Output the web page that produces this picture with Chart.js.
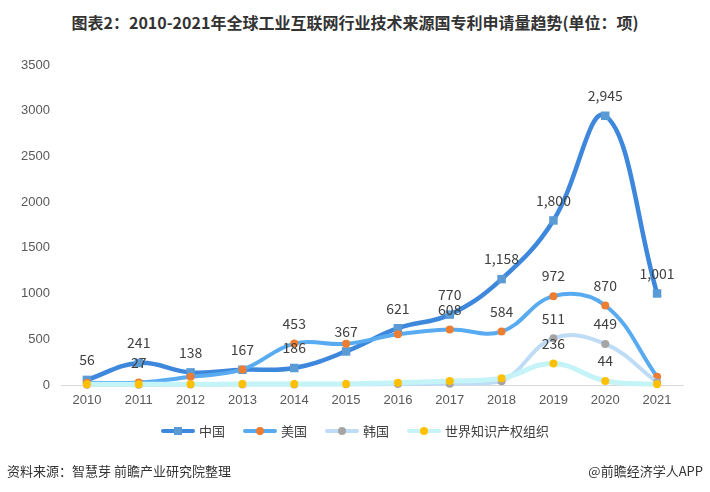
<!DOCTYPE html>
<html>
<head>
<meta charset="utf-8">
<script src="https://cdn.jsdelivr.net/npm/chart.js@4.4.0/dist/chart.umd.min.js"></script>
<style>
    body { margin: 0; width: 710px; height: 492px; background: #fff; position: relative; overflow: hidden;
           font-family: "Noto Sans CJK SC", "Noto Sans", sans-serif; }
    #chart { position: absolute; left: 0; top: 0; }
    #title { position: absolute; top: 10px; left: 0; width: 710px; text-align: center;
             font-size: 16px; font-weight: bold; color: #333; }
    #legend { position: absolute; top: 421px; left: 0; width: 710px; display: flex; justify-content: center;
              font-size: 13px; color: #404040; line-height: 20px; }
    .item { display: flex; align-items: center; margin: 0 9px; }
    .sym { position: relative; width: 34px; height: 4px; margin-right: 4px; border-radius: 2px; }
    .mk { position: absolute; left: 13px; top: -2px; width: 8px; height: 8px; }
    #source { position: absolute; left: 7px; top: 461px; font-size: 13px; color: #333; }
    #brand { position: absolute; right: 7px; top: 461px; font-size: 13px; color: #333; }
</style>
</head>
<body>
<div id="title">图表2：2010-2021年全球工业互联网行业技术来源国专利申请量趋势(单位：项)</div>
<canvas id="chart" width="710" height="492"></canvas>
<div id="legend"></div>
<div id="source">资料来源：智慧芽 前瞻产业研究院整理</div>
<div id="brand">@前瞻经济学人APP</div>
<script>
// data
const years = ['2010', '2011', '2012', '2013', '2014', '2015', '2016', '2017', '2018', '2019', '2020', '2021'];
const seriesNames = ['中国', '美国', '韩国', '世界知识产权组织'];
const chinaValues = [56, 241, 138, 167, 186, 367, 621, 770, 1158, 1800, 2945, 1001];
const usValues = [25, 27, 90, 170, 453, 450, 555, 608, 584, 972, 870, 90];
const koreaValues = [3, 3, 5, 5, 6, 8, 10, 15, 40, 511, 449, 30];
const wipoValues = [8, 8, 8, 10, 12, 12, 25, 44, 73, 236, 44, 8];
// which points carry a value label
const chinaLabeled = [0, 1, 2, 3, 4, 5, 6, 7, 8, 9, 10, 11];
const usLabeled = [1, 4, 7, 8, 9, 10];
const koreaLabeled = [9, 10];
const wipoLabeled = [9, 10];
const yTicks = [0, 500, 1000, 1500, 2000, 2500, 3000, 3500];

const lineColors = ['#3d87dc', '#58abf0', '#bfdcf6', '#c4f3f8'];
const markerColors = ['#5b9bd5', '#ed7d31', '#a5a5a5', '#ffc000'];

function makeDataset(i, values, labeled, pointStyle, radius, width) {
    return {
        label: seriesNames[i],
        data: values,
        labeled: labeled,
        borderColor: lineColors[i],
        borderWidth: width,
        backgroundColor: markerColors[i],
        pointBackgroundColor: markerColors[i],
        pointBorderWidth: 0,
        pointStyle: pointStyle,
        pointRadius: radius,
        pointHoverRadius: radius,
        tension: 0.4,
        clip: false,
        order: 3 - i
    };
}

const valueLabels = {
    id: 'valueLabels',
    afterDatasetsDraw(chart) {
        const ctx = chart.ctx;
        ctx.save();
        ctx.font = '14px "Noto Sans CJK SC"';
        ctx.fillStyle = '#404040';
        ctx.textAlign = 'center';
        ctx.textBaseline = 'middle';
        chart.data.datasets.forEach((ds, i) => {
            const meta = chart.getDatasetMeta(i);
            ds.labeled.forEach(j => {
                const pt = meta.data[j];
                ctx.fillText(ds.data[j].toLocaleString('en-US'), pt.x, pt.y - 20);
            });
        });
        ctx.restore();
    }
};

const chart = new Chart(document.getElementById('chart'), {
    type: 'line',
    data: {
        labels: years,
        datasets: [
            makeDataset(0, chinaValues, chinaLabeled, 'rect', 6, 4.5),
            makeDataset(1, usValues, usLabeled, 'circle', 4, 4),
            makeDataset(2, koreaValues, koreaLabeled, 'circle', 4, 4),
            makeDataset(3, wipoValues, wipoLabeled, 'circle', 4, 5)
        ]
    },
    plugins: [valueLabels],
    options: {
        responsive: false,
        animation: false,
        layout: { padding: { left: 11, right: 27, top: 65, bottom: 77 } },
        plugins: {
            legend: { display: false },
            title: { display: false },
            tooltip: { enabled: false }
        },
        scales: {
            x: {
                offset: true,
                grid: { display: false, drawTicks: false },
                border: { display: true, color: '#d9d9d9', width: 1 },
                ticks: { color: '#595959', padding: 8, font: { size: 13, family: '"Liberation Sans", Arial' } },
                afterFit: scale => { scale.height = 30; }
            },
            y: {
                min: 0,
                max: 3500,
                grid: { display: false, drawTicks: false },
                border: { display: false },
                afterBuildTicks: scale => { scale.ticks = yTicks.map(v => ({ value: v })); },
                ticks: {
                    color: '#595959',
                    padding: 11,
                    font: { size: 13, family: '"Liberation Sans", Arial' },
                    callback: value => String(value)
                },
                afterFit: scale => { scale.width = 50; }
            }
        }
    }
});

// legend: line with marker in the middle, like the original
const legendEl = document.getElementById('legend');
seriesNames.forEach((name, i) => {
    const item = document.createElement('div');
    item.className = 'item';
    const sym = document.createElement('span');
    sym.className = 'sym';
    sym.style.background = lineColors[i];
    const mk = document.createElement('span');
    mk.className = 'mk';
    mk.style.background = markerColors[i];
    if (i > 0) { mk.style.borderRadius = '50%'; }
    sym.appendChild(mk);
    const txt = document.createElement('span');
    txt.textContent = name;
    item.appendChild(sym);
    item.appendChild(txt);
    legendEl.appendChild(item);
});
</script>
</body>
</html>
